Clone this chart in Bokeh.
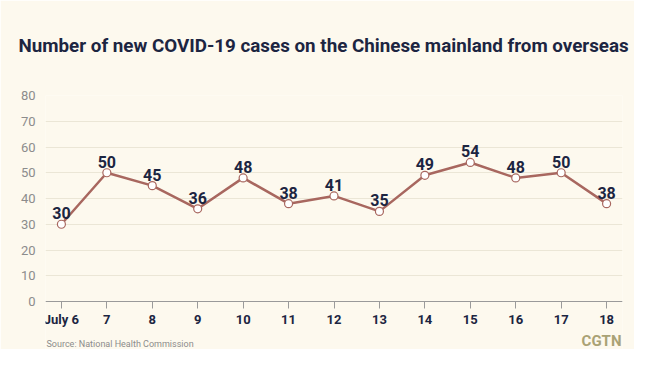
from bokeh.plotting import figure
from bokeh.models import ColumnDataSource, LabelSet, Label, Range1d, FixedTicker, Title
from bokeh.core.properties import value
from bokeh.embed import file_html
from bokeh.resources import INLINE

days = [6, 7, 8, 9, 10, 11, 12, 13, 14, 15, 16, 17, 18]
day_labels = ["July 6", "7", "8", "9", "10", "11", "12", "13", "14", "15", "16", "17", "18"]
cases = [30, 50, 45, 36, 48, 38, 41, 35, 49, 54, 48, 50, 38]
y_ticks = [0, 10, 20, 30, 40, 50, 60, 70, 80]

BG = "#fdf9ee"
LINE = "#a8675f"
NAVY = "#1c2541"
FONT = "Roboto"

W, H = 634, 349
FL, FT = 45, 95           # frame left / top in canvas pixels
PX_PER_UNIT = (301 - 95) / 80.0
y_bottom = -(H - 301) / PX_PER_UNIT   # frame extends to canvas bottom

p = figure(width=W, height=H, output_backend="svg", toolbar_location=None,
           x_range=Range1d(5.65, 18.35), y_range=Range1d(y_bottom, 80),
           min_border_left=FL, min_border_right=W - 622, min_border_top=FT,
           min_border_bottom=0)
p.background_fill_color = BG
p.border_fill_color = BG
p.outline_line_color = None

p.title.text = "Number of new COVID-19 cases on the Chinese mainland from overseas"
p.title.align = "left"
p.title.offset = -27
p.title.text_font = FONT
p.title.text_font_size = "18.8px"
p.title.text_font_style = "bold"
p.title.text_color = NAVY
p.add_layout(Title(text=" ", text_font_size="20px"), "above")

p.xgrid.grid_line_color = None
p.ygrid.grid_line_color = "#ebe6d6"
p.ygrid.grid_line_width = 1
p.ygrid.ticker = FixedTicker(ticks=y_ticks)

p.yaxis.ticker = FixedTicker(ticks=y_ticks)
p.yaxis.axis_line_color = None
p.yaxis.major_tick_line_color = None
p.yaxis.minor_tick_line_color = None
p.yaxis.major_label_text_font = FONT
p.yaxis.major_label_text_font_size = "13px"
p.yaxis.major_label_text_color = "#8c8c8c"
p.yaxis.major_label_standoff = 4

p.xaxis.fixed_location = 0
p.xaxis.ticker = FixedTicker(ticks=days)
p.xaxis.major_label_overrides = {d: l for d, l in zip(days, day_labels)}
p.xaxis.axis_line_color = "#9a9a9a"
p.xaxis.major_tick_line_color = "#9a9a9a"
p.xaxis.major_tick_in = 0
p.xaxis.major_tick_out = 7
p.xaxis.minor_tick_line_color = None
p.xaxis.major_label_text_font = FONT
p.xaxis.major_label_text_font_size = "13px"
p.xaxis.major_label_text_font_style = "bold"
p.xaxis.major_label_text_color = NAVY
p.xaxis.major_label_standoff = 3

src = ColumnDataSource(dict(x=days, y=cases, t=[str(c) for c in cases]))
p.line("x", "y", source=src, line_color=LINE, line_width=2.5)
p.scatter("x", "y", source=src, size=8, fill_color="white", line_color=LINE, line_width=1.2)
p.add_layout(LabelSet(x="x", y="y", text="t", source=src, y_offset=5,
                      text_align="center", text_baseline="bottom",
                      text_font=value(FONT), text_font_size=value("16px"),
                      text_font_style="bold", text_color=NAVY))

def canvas_label(x, y, **kw):
    return Label(x=x - FL, y=H - y, x_units="screen", y_units="screen", **kw)

p.add_layout(canvas_label(46, 343, text="Source: National Health Commission",
                          text_align="left", text_baseline="middle", text_font=FONT,
                          text_font_size="9px", text_color="#8c8c8c"))
p.add_layout(canvas_label(621, 340, text="CGTN", text_align="right",
                          text_baseline="middle", text_font=FONT, text_font_size="15px",
                          text_font_style="bold", text_color="#aaa275"))

open("out.html", "w").write(file_html(p, INLINE))
